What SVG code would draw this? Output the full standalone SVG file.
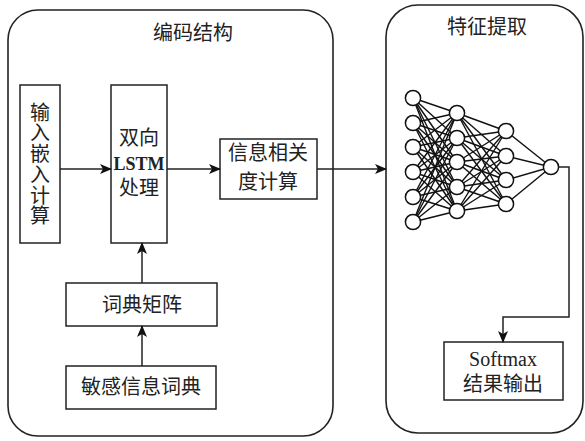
<svg xmlns="http://www.w3.org/2000/svg" width="585" height="441" viewBox="0 0 585 441">
<defs>
<style>
.box{fill:#fff;stroke:#222;stroke-width:1.5}
.panel{fill:#fff;stroke:#222;stroke-width:1.6}
.t{font-family:"Liberation Serif","Noto Sans CJK SC",serif;font-size:20px;fill:#222;text-anchor:middle}
.c{stroke:#222;stroke-width:1.5;fill:none}
.e{stroke:#111;stroke-width:1.4}
.n{fill:#fff;stroke:#111;stroke-width:1.5}
</style>
<marker id="ah" viewBox="0 0 12 10" refX="11" refY="5" markerWidth="12" markerHeight="10" markerUnits="userSpaceOnUse" orient="auto">
<path d="M0,0 L12,5 L0,10 L3,5 Z" fill="#111"/>
</marker>
</defs>
<g id="panel-encode">
<rect class="panel" x="8" y="10" width="325" height="426" rx="30"/>
<text class="t" x="193" y="40">编码结构</text>
</g>
<g id="panel-feature">
<rect class="panel" x="386" y="5" width="197" height="428" rx="32"/>
<text class="t" x="487" y="34">特征提取</text>
</g>
<g id="node-input">
<rect class="box" x="20" y="85" width="40" height="158"/>
<text class="t"><tspan x="40" y="120">输</tspan><tspan x="40" y="140">入</tspan><tspan x="40" y="161">嵌</tspan><tspan x="40" y="182">入</tspan><tspan x="40" y="203">计</tspan><tspan x="40" y="223">算</tspan></text>
</g>
<g id="node-lstm">
<rect class="box" x="111" y="85" width="56" height="158"/>
<text class="t"><tspan x="139" y="145">双向</tspan><tspan x="139" y="170" font-size="18" font-weight="bold">LSTM</tspan><tspan x="139" y="195">处理</tspan></text>
</g>
<g id="node-info">
<rect class="box" x="220" y="139" width="97" height="60"/>
<text class="t"><tspan x="268" y="160">信息相关</tspan><tspan x="268" y="189">度计算</tspan></text>
</g>
<g id="node-dictmatrix">
<rect class="box" x="66" y="283" width="151" height="43"/>
<text class="t" x="142" y="312">词典矩阵</text>
</g>
<g id="node-sensdict">
<rect class="box" x="66" y="366" width="150" height="43"/>
<text class="t" x="141" y="394">敏感信息词典</text>
</g>
<g id="node-softmax">
<rect class="box" x="444" y="342" width="119" height="58"/>
<text class="t"><tspan x="503" y="366">Softmax</tspan><tspan x="503" y="391">结果输出</tspan></text>
</g>
<g id="node-network">
<g class="e">
<line x1="413" y1="98" x2="457" y2="113"/><line x1="413" y1="98" x2="457" y2="138"/><line x1="413" y1="98" x2="457" y2="162"/><line x1="413" y1="98" x2="457" y2="187"/><line x1="413" y1="98" x2="457" y2="211"/>
<line x1="413" y1="123" x2="457" y2="113"/><line x1="413" y1="123" x2="457" y2="138"/><line x1="413" y1="123" x2="457" y2="162"/><line x1="413" y1="123" x2="457" y2="187"/><line x1="413" y1="123" x2="457" y2="211"/>
<line x1="413" y1="147" x2="457" y2="113"/><line x1="413" y1="147" x2="457" y2="138"/><line x1="413" y1="147" x2="457" y2="162"/><line x1="413" y1="147" x2="457" y2="187"/><line x1="413" y1="147" x2="457" y2="211"/>
<line x1="413" y1="172" x2="457" y2="113"/><line x1="413" y1="172" x2="457" y2="138"/><line x1="413" y1="172" x2="457" y2="162"/><line x1="413" y1="172" x2="457" y2="187"/><line x1="413" y1="172" x2="457" y2="211"/>
<line x1="413" y1="197" x2="457" y2="113"/><line x1="413" y1="197" x2="457" y2="138"/><line x1="413" y1="197" x2="457" y2="162"/><line x1="413" y1="197" x2="457" y2="187"/><line x1="413" y1="197" x2="457" y2="211"/>
<line x1="413" y1="222" x2="457" y2="113"/><line x1="413" y1="222" x2="457" y2="138"/><line x1="413" y1="222" x2="457" y2="162"/><line x1="413" y1="222" x2="457" y2="187"/><line x1="413" y1="222" x2="457" y2="211"/>
<line x1="457" y1="113" x2="506" y2="131"/><line x1="457" y1="113" x2="506" y2="156"/><line x1="457" y1="113" x2="506" y2="180"/><line x1="457" y1="113" x2="506" y2="204"/>
<line x1="457" y1="138" x2="506" y2="131"/><line x1="457" y1="138" x2="506" y2="156"/><line x1="457" y1="138" x2="506" y2="180"/><line x1="457" y1="138" x2="506" y2="204"/>
<line x1="457" y1="162" x2="506" y2="131"/><line x1="457" y1="162" x2="506" y2="156"/><line x1="457" y1="162" x2="506" y2="180"/><line x1="457" y1="162" x2="506" y2="204"/>
<line x1="457" y1="187" x2="506" y2="131"/><line x1="457" y1="187" x2="506" y2="156"/><line x1="457" y1="187" x2="506" y2="180"/><line x1="457" y1="187" x2="506" y2="204"/>
<line x1="457" y1="211" x2="506" y2="131"/><line x1="457" y1="211" x2="506" y2="156"/><line x1="457" y1="211" x2="506" y2="180"/><line x1="457" y1="211" x2="506" y2="204"/>
<line x1="506" y1="131" x2="551" y2="167"/><line x1="506" y1="156" x2="551" y2="167"/><line x1="506" y1="180" x2="551" y2="167"/><line x1="506" y1="204" x2="551" y2="167"/>
</g>
<circle class="n" cx="413" cy="98" r="7.6"/><circle class="n" cx="413" cy="123" r="7.6"/><circle class="n" cx="413" cy="147" r="7.6"/><circle class="n" cx="413" cy="172" r="7.6"/><circle class="n" cx="413" cy="197" r="7.6"/><circle class="n" cx="413" cy="222" r="7.6"/>
<circle class="n" cx="457" cy="113" r="7.6"/><circle class="n" cx="457" cy="138" r="7.6"/><circle class="n" cx="457" cy="162" r="7.6"/><circle class="n" cx="457" cy="187" r="7.6"/><circle class="n" cx="457" cy="211" r="7.6"/>
<circle class="n" cx="506" cy="131" r="7.6"/><circle class="n" cx="506" cy="156" r="7.6"/><circle class="n" cx="506" cy="180" r="7.6"/><circle class="n" cx="506" cy="204" r="7.6"/>
<circle class="n" cx="551" cy="167" r="7.6"/>
</g>
<g id="connectors">
<line class="c" x1="60" y1="169" x2="111" y2="169" marker-end="url(#ah)"/>
<line class="c" x1="167" y1="169" x2="220" y2="169" marker-end="url(#ah)"/>
<line class="c" x1="317" y1="169" x2="386" y2="169" marker-end="url(#ah)"/>
<line class="c" x1="142" y1="283" x2="142" y2="243" marker-end="url(#ah)"/>
<line class="c" x1="142" y1="366" x2="142" y2="326" marker-end="url(#ah)"/>
<path class="c" d="M558.6,167 H569 V317 H503 V342" marker-end="url(#ah)"/>
</g>
</svg>
